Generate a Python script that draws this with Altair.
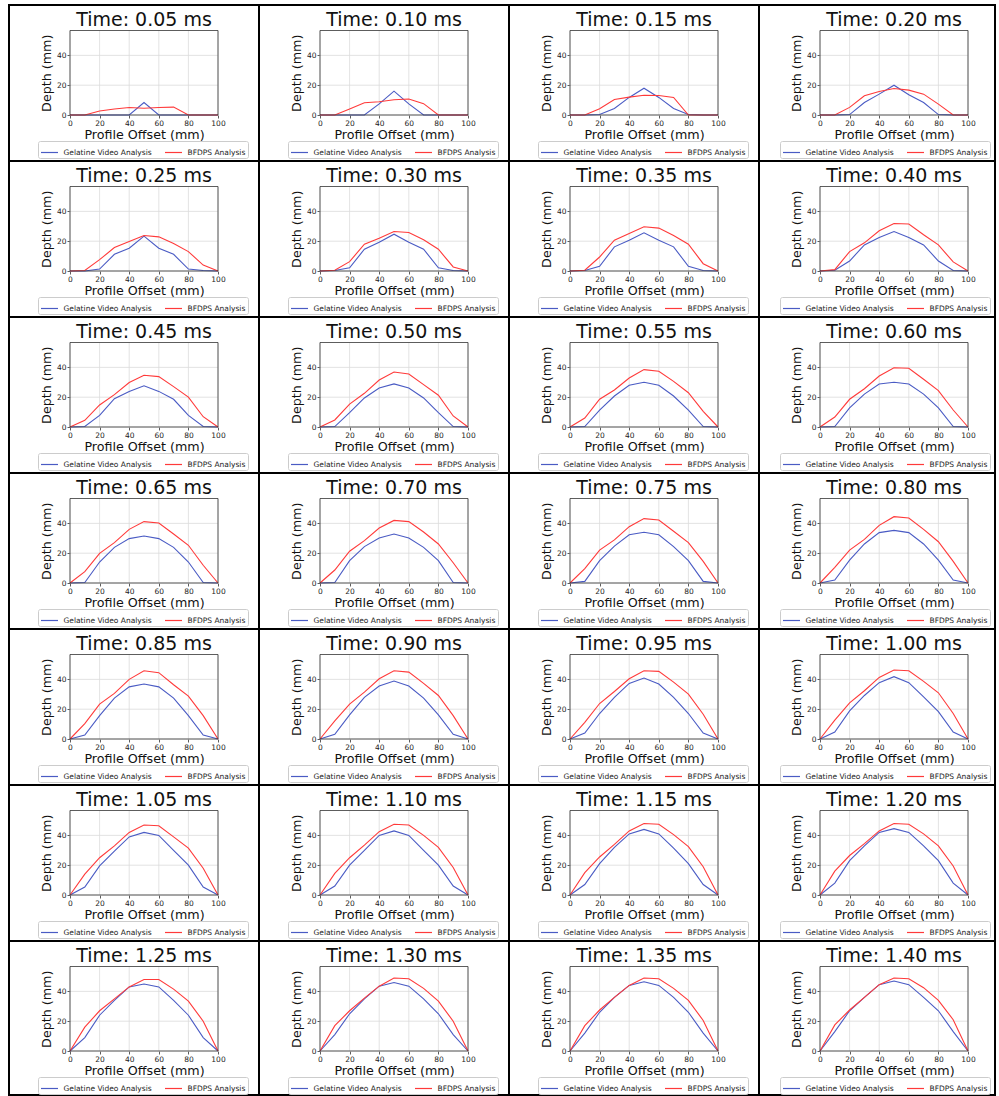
import altair as alt
import pandas as pd

# ---------------- data ----------------
X_OFFSET = [0, 10, 20, 30, 40, 50, 60, 70, 80, 90, 100]
TIME_MS = ["0.05", "0.10", "0.15", "0.20", "0.25", "0.30", "0.35",
           "0.40", "0.45", "0.50", "0.55", "0.60", "0.65", "0.70",
           "0.75", "0.80", "0.85", "0.90", "0.95", "1.00", "1.05",
           "1.10", "1.15", "1.20", "1.25", "1.30", "1.35", "1.40"]

GELATINE = [
    [0, 0, 0, 0, 0, 8.4, 0, 0, 0, 0, 0],
    [0, 0, 0, 0, 7.5, 16, 7.5, 0, 0, 0, 0],
    [0, 0, 0.3, 4.4, 11.8, 18, 11.8, 4.4, 0.3, 0, 0],
    [0, 0, 0.3, 8.4, 14, 20, 13.6, 8.4, 0.3, 0, 0],
    [0, 0, 1.3, 11.2, 15.3, 23.4, 15.3, 11.2, 1.3, 0.3, 0],
    [0, 0.3, 2.2, 14.6, 19.3, 24.7, 19.3, 14.6, 2.2, 0.3, 0],
    [0, 0.3, 3.1, 16.2, 20.7, 25.6, 20.7, 16.2, 3.1, 0.3, 0],
    [0, 0.5, 6.7, 17.5, 22.5, 26.5, 22.5, 17.5, 6.7, 0.3, 0],
    [0, 0.3, 7.8, 19, 23.9, 27.7, 23.9, 18.6, 7.8, 0.3, 0],
    [0, 0.3, 9.6, 19.5, 26.2, 28.9, 26.2, 19.5, 9.6, 0.3, 0],
    [0, 0.3, 11.4, 20.8, 28, 30, 28, 20.8, 11.4, 0.3, 0],
    [0, 0.3, 12.8, 22.1, 28.9, 30, 28.9, 22.1, 12.8, 0.3, 0],
    [0, 0.3, 14.1, 23.9, 29.8, 31.5, 29.8, 23.9, 14.1, 0.3, 0],
    [0, 0.3, 15, 24.4, 30.2, 32.9, 30.2, 23.9, 15, 0.3, 0],
    [0, 1.1, 15, 24.8, 32.4, 34, 32.4, 24.4, 15, 1.1, 0],
    [0, 2, 15.4, 26.2, 33.8, 35.3, 33.8, 26.2, 15.4, 2, 0],
    [0, 2.7, 15.7, 27.4, 35, 36.9, 35, 27.4, 15.7, 2.7, 0],
    [0, 3.1, 16.2, 27.9, 35.5, 38.9, 35.5, 27.4, 16.2, 3.1, 0],
    [0, 4, 17.1, 27.9, 37.3, 40.9, 36.9, 27.9, 17.1, 4, 0],
    [0, 4.7, 18.9, 29.2, 37.8, 41.8, 37.8, 28.3, 18.4, 4.7, 0],
    [0, 5.3, 19.5, 29.5, 39, 42, 40, 30, 20, 5.3, 0],
    [0, 6, 20, 30, 40, 43, 40, 30, 20, 6, 0],
    [0, 7, 21, 32, 41, 44, 41, 31.5, 21, 7, 0],
    [0, 8, 23, 33, 42, 44.5, 42, 33, 23, 8, 0],
    [0, 9, 24, 34, 43, 45, 43, 34, 24, 9, 0],
    [0, 11, 25, 35, 43.5, 46, 43.5, 35, 25, 11, 0],
    [0, 12, 26, 36, 44, 46.5, 44, 36, 26, 12, 0],
    [0, 13, 27, 36, 44.5, 47, 44.5, 36, 27, 13, 0],
]

BFDPS = [
    [0, 0, 2.7, 4, 5, 4.5, 5, 5.3, 0, 0, 0],
    [0, 0, 4, 8.2, 8.9, 10.2, 10.7, 7.6, 0, 0, 0],
    [0, 0, 4.2, 10.4, 12, 13.3, 13.1, 11.8, 0, 0, 0],
    [0, 0, 5.1, 12.9, 15.8, 17.8, 16.7, 14, 7.3, 0, 0],
    [0, 0.3, 7.6, 15.7, 19.8, 23.8, 22.9, 18.4, 13, 4, 0],
    [0, 0.5, 6.3, 18, 22, 26.5, 25.8, 20.9, 14.6, 2.7, 0],
    [0, 0.5, 9.4, 20.7, 25.2, 29.7, 28.8, 23.8, 18, 4.9, 0],
    [0, 0.9, 13, 18.9, 27, 31.9, 31.5, 24.3, 17.5, 6.1, 0],
    [0, 4.5, 14.8, 21.7, 29.8, 34.7, 33.8, 27.1, 20.1, 6.9, 0],
    [0, 4.7, 15.4, 22.6, 31.5, 36.9, 35.6, 28.4, 21.3, 7.4, 0],
    [0, 6, 18.6, 24.8, 32.9, 38.5, 37.4, 30.6, 23, 10.5, 0],
    [0, 6.7, 18.6, 25.7, 34.2, 39.8, 39.4, 32, 24.4, 11.4, 0],
    [0, 7.6, 19.9, 27.1, 36, 41.2, 40.3, 32.9, 25.3, 11.9, 0],
    [0, 8.7, 21.3, 28.4, 36.9, 42, 41.2, 34.2, 26.2, 13.6, 0],
    [0, 9.6, 22.1, 28.9, 37.8, 43.2, 42.3, 34.7, 27.1, 14.5, 0],
    [0, 10.5, 22.1, 29.3, 38.7, 44.5, 43.6, 36, 27.7, 14.5, 0],
    [0, 10.3, 23.4, 30.6, 40, 45.8, 44.5, 36.4, 28.8, 15.7, 0],
    [0, 12.1, 23.4, 31.5, 40.4, 45.8, 44.9, 37.3, 29.2, 15.7, 0],
    [0, 11.2, 23.8, 31.9, 40.4, 45.8, 45.4, 38.2, 30.1, 16.6, 0],
    [0, 12.6, 24.3, 32.4, 41.3, 46.3, 45.8, 38.7, 31, 17.1, 0],
    [0, 14, 25, 33, 42, 47, 46.5, 39, 31.5, 18, 0],
    [0, 14.5, 25, 33.5, 42.5, 47.5, 47, 40, 32, 18.5, 0],
    [0, 15, 25.5, 34, 43, 48, 47.5, 40.5, 32.5, 19, 0],
    [0, 16, 26.5, 34.5, 43, 48, 47.5, 41, 33, 19.5, 0],
    [0, 16, 27, 35, 43, 48, 48, 41.5, 33.5, 20, 0],
    [0, 17, 27, 35.5, 43.5, 49, 48.5, 42, 33.5, 20, 0],
    [0, 17, 27.5, 36, 44, 49, 48.5, 42, 34, 20.5, 0],
    [0, 17.5, 27.5, 36, 44.5, 49, 48.5, 42.5, 34, 21, 0],
]

SERIES = ["Gelatine Video Analysis", "BFDPS Analysis"]
COLORS = ["#4a5bc4", "#ff3a3a"]
X_TICKS = [0, 20, 40, 60, 80, 100]
Y_TICKS = [0, 20, 40]
X_DOMAIN = [0, 100]
Y_DOMAIN = [0, 56.7]

# ---------------- layout ----------------
FONT = "DejaVu Sans"
NCOL = 4
ROW_H = 156
LAST_ROW_H = 154
COL_W = 250
LAST_COL_W = 236
PX = [61, 209]       # plot area inside a cell
PY = [110, 25.5]

xs = alt.Scale(domain=X_DOMAIN, range=PX, nice=False, zero=False)
ys = alt.Scale(domain=Y_DOMAIN, range=PY, nice=False, zero=False)
cs = alt.Scale(domain=SERIES, range=COLORS)

vgrid_df = pd.DataFrame({"gx": X_TICKS, "gy0": Y_DOMAIN[0], "gy1": Y_DOMAIN[1]})
hgrid_df = pd.DataFrame({"gy": Y_TICKS, "gx0": X_DOMAIN[0], "gx1": X_DOMAIN[1]})
frame_df = pd.DataFrame({"fx0": [X_DOMAIN[0]], "fx1": [X_DOMAIN[1]],
                         "fy0": [Y_DOMAIN[0]], "fy1": [Y_DOMAIN[1]]})

COMMON_AXIS = dict(domain=False, grid=False, tickSize=3, tickColor="#333",
                   tickWidth=0.8, labelFontSize=7.5, labelColor="#222",
                   labelPadding=1, labelFont=FONT, titleFont=FONT,
                   titleFontSize=12.7, titleFontWeight="normal",
                   titleColor="#111", titleBaseline="alphabetic",
                   labelFlush=False)


def make_cell(i, w, h, last_col):
    rows = []
    for s, vals in zip(SERIES, (GELATINE[i], BFDPS[i])):
        for x, v in zip(X_OFFSET, vals):
            rows.append({"x": x, "depth": v, "series": s})
    df = pd.DataFrame(rows)
    title_df = pd.DataFrame({"label": [f"Time: {TIME_MS[i]} ms"],
                             "tx": [(X_DOMAIN[0] + X_DOMAIN[1]) / 2],
                             "ty": [Y_DOMAIN[1]]})

    xa = alt.Axis(title="Profile Offset (mm)", values=X_TICKS,
                  offset=PY[0] - h, titleY=23.3, **COMMON_AXIS)
    ya = alt.Axis(title="Depth (mm)", values=Y_TICKS, offset=-PX[0],
                  titleX=-20, titleAngle=270, **COMMON_AXIS)

    vgrid = alt.Chart(vgrid_df).mark_rule(color="#dcdcdc", strokeWidth=0.8).encode(
        x=alt.X("gx:Q", scale=xs, axis=xa),
        y=alt.Y("gy0:Q", scale=ys, axis=ya),
        y2="gy1:Q",
    )
    hgrid = alt.Chart(hgrid_df).mark_rule(color="#dcdcdc", strokeWidth=0.8).encode(
        y=alt.Y("gy:Q", scale=ys, axis=ya),
        x=alt.X("gx0:Q", scale=xs, axis=xa),
        x2="gx1:Q",
    )
    lines = alt.Chart(df).mark_line(strokeWidth=1.1).encode(
        x=alt.X("x:Q", scale=xs, axis=xa),
        y=alt.Y("depth:Q", scale=ys, axis=ya),
        color=alt.Color("series:N", scale=cs, legend=alt.Legend(
            title=None, orient="none", legendX=21 if last_col else 29,
            legendY=136,
            direction="horizontal", labelFont=FONT, labelFontSize=7.5,
            labelColor="#222", symbolType="stroke", symbolSize=289,
            symbolStrokeWidth=1.2, labelOffset=4.5, columnPadding=10,
            padding=2, strokeColor="#cccccc", fillColor="white",
            cornerRadius=2, labelLimit=300)),
    )
    frame = alt.Chart(frame_df).mark_rect(
        fillOpacity=0, stroke="#333", strokeWidth=0.8).encode(
        x=alt.X("fx0:Q", scale=xs, axis=xa), x2="fx1:Q",
        y=alt.Y("fy0:Q", scale=ys, axis=ya), y2="fy1:Q",
    )
    title = alt.Chart(title_df).mark_text(
        font=FONT, fontSize=19, baseline="alphabetic", align="center",
        dy=-4.5, color="#111").encode(
        x=alt.X("tx:Q", scale=xs, axis=xa),
        y=alt.Y("ty:Q", scale=ys, axis=ya),
        text="label:N",
    )
    return alt.layer(vgrid, hgrid, lines, frame, title).properties(width=w, height=h)


n = len(TIME_MS)
nrows = (n + NCOL - 1) // NCOL
cells = []
for i in range(n):
    r, c = divmod(i, NCOL)
    last_col = c == NCOL - 1
    w = LAST_COL_W if last_col else COL_W
    h = LAST_ROW_H if r == nrows - 1 else ROW_H
    cells.append(make_cell(i, w, h, last_col))

chart = alt.concat(*cells, columns=NCOL, spacing=0, bounds="flush").resolve_legend(
    color="independent").properties(
    padding={"left": 8, "top": 4, "right": 0, "bottom": 0},
    background="white",
).configure(font=FONT).configure_view(stroke="black", strokeWidth=2)

chart.save("out.html", embed_options={"renderer": "svg", "actions": False})
